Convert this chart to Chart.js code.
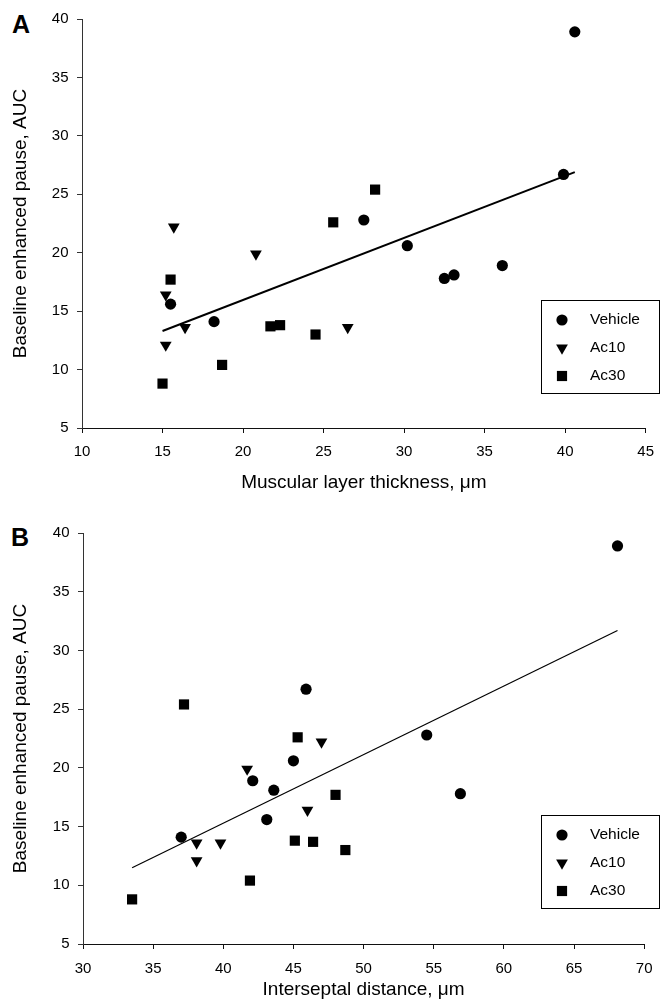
<!DOCTYPE html>
<html>
<head>
<meta charset="utf-8">
<script src="https://cdn.jsdelivr.net/npm/chart.js@4.4.0/dist/chart.umd.min.js"></script>
<style>
    body { margin: 0; background: #fff; width: 665px; height: 1004px; overflow: hidden; position: relative; }
    canvas { position: absolute; left: 0; display: block; }
    .letra { position: absolute; font-family: Arial, "Liberation Sans", sans-serif; font-weight: bold; font-size: 25px; line-height: 25px; }
</style>
</head>
<body>
<div class="letra" style="left:12px; top:12px;">A</div>
<div class="letra" style="left:11px; top:525px;">B</div>
<canvas id="grafica_a" width="665" height="500" style="top:0"></canvas>
<canvas id="grafica_b" width="665" height="504" style="top:500px"></canvas>
<script>
// Pausa aumentada basal (AUC) por animal, compartida por ambos paneles
const pausaVehiculo = [38.9, 26.7, 22.8, 20.6, 18.9, 18.1, 17.8, 15.6, 14.1];
const pausaAc10 = [22.2, 19.9, 16.4, 13.6, 13.6, 12.1];
const pausaAc30 = [8.8, 17.7, 10.4, 13.7, 13.8, 13.0, 22.6, 25.4];

// Panel A: grosor de la capa muscular (µm)
const grosorVehiculo = [40.6, 39.9, 27.5, 30.2, 36.1, 33.1, 32.5, 15.5, 18.2];
const grosorAc10 = [15.7, 20.8, 15.2, 16.4, 26.5, 15.2];
const grosorAc30 = [15.0, 15.5, 18.7, 21.7, 22.3, 24.5, 25.6, 28.2];
const tendenciaA_x = [15.0, 40.6];
const tendenciaA_y = [13.3, 26.9];

// Panel B: distancia interseptal (µm)
const distanciaVehiculo = [68.1, 45.9, 54.5, 45.0, 42.1, 43.6, 56.9, 43.1, 37.0];
const distanciaAc10 = [47.0, 41.7, 46.0, 38.1, 39.8, 38.1];
const distanciaAc30 = [33.5, 48.0, 41.9, 46.4, 45.1, 48.7, 45.3, 37.2];
const tendenciaB_x = [33.5, 68.1];
const tendenciaB_y = [11.5, 31.7];

const grupos = ['Vehicle', 'Ac10', 'Ac30'];
const ticksPausa = [5, 10, 15, 20, 25, 30, 35, 40];
const ticksGrosor = [10, 15, 20, 25, 30, 35, 40, 45];
const ticksDistancia = [30, 35, 40, 45, 50, 55, 60, 65, 70];

const fuente = 'Arial, "Liberation Sans", sans-serif';

function puntos(xs, ys) {
    return xs.map((x, i) => ({ x: x, y: ys[i] }));
}

// Leyenda con recuadro dentro del área de la gráfica
const leyendaCaja = {
    id: 'leyendaCaja',
    afterDatasetsDraw(chart, args, opts) {
        const ctx = chart.ctx;
        ctx.save();
        ctx.strokeStyle = '#000';
        ctx.lineWidth = 1;
        ctx.strokeRect(opts.x + 0.5, opts.y + 0.5, opts.w, opts.h);
        ctx.fillStyle = '#000';
        ctx.font = '15.5px ' + fuente;
        ctx.textBaseline = 'middle';
        ctx.textAlign = 'left';
        let fila = 0;
        chart.data.datasets.forEach(ds => {
            if (ds.showLine) return;
            const y = opts.y + opts.primera + fila * opts.paso;
            Chart.helpers.drawPoint(ctx, {
                pointStyle: ds.pointStyle,
                rotation: ds.pointRotation || 0,
                radius: ds.pointRadius,
                borderWidth: 0
            }, opts.x + opts.marcaX, y);
            ctx.fillText(ds.label, opts.x + opts.textoX, y);
            fila++;
        });
        ctx.restore();
    }
};

function dibujarGrafico(idCanvas, xsV, xs10, xs30, tendX, tendY, grosorLinea, ejeX, ticksX, tituloX, diseno) {
    const ctx = document.getElementById(idCanvas).getContext('2d');
    const serie = (label, xs, ys, estilo, radio, rotacion) => ({
        label: label,
        data: puntos(xs, ys),
        pointStyle: estilo,
        pointRadius: radio,
        pointHoverRadius: radio,
        pointRotation: rotacion,
        pointBackgroundColor: '#000',
        pointBorderColor: '#000',
        pointBorderWidth: 0,
        showLine: false
    });
    return new Chart(ctx, {
        type: 'scatter',
        data: {
            datasets: [
                serie(grupos[0], xsV, pausaVehiculo, 'circle', 5.6, 0),
                serie(grupos[1], xs10, pausaAc10, 'triangle', 6.8, 180),
                serie(grupos[2], xs30, pausaAc30, 'rect', 7.2, 0),
                {
                    label: 'tendencia',
                    data: puntos(tendX, tendY),
                    showLine: true,
                    borderColor: '#000',
                    borderWidth: grosorLinea,
                    pointRadius: 0,
                    fill: false
                }
            ]
        },
        options: {
            responsive: false,
            animation: false,
            events: [],
            clip: false,
            layout: { padding: diseno.padding },
            plugins: {
                legend: { display: false },
                tooltip: { enabled: false },
                leyendaCaja: diseno.leyenda
            },
            scales: {
                x: {
                    type: 'linear',
                    min: ejeX[0],
                    max: ejeX[1],
                    afterBuildTicks: s => { s.ticks = ticksX.map(v => ({ value: v })); },
                    afterFit: s => { s.height = diseno.altoX; },
                    border: { display: true, color: '#111', width: 1 },
                    grid: { drawOnChartArea: false, drawTicks: true, tickLength: 5, color: '#111' },
                    ticks: { color: '#000', padding: diseno.padTickX, maxRotation: 0, font: { family: fuente, size: 15, lineHeight: 1 } },
                    title: {
                        display: true,
                        text: tituloX,
                        color: '#000',
                        padding: { top: 0, bottom: diseno.padTituloX },
                        font: { family: fuente, size: 19, lineHeight: 1 }
                    }
                },
                y: {
                    type: 'linear',
                    min: 5,
                    max: 40,
                    afterBuildTicks: s => { s.ticks = ticksPausa.map(v => ({ value: v })); },
                    afterFit: s => { s.width = diseno.anchoY; },
                    border: { display: true, color: '#333', width: 1 },
                    grid: { drawOnChartArea: false, drawTicks: true, tickLength: 5, color: '#333' },
                    ticks: { color: '#000', padding: 8.5, font: { family: fuente, size: 15, lineHeight: 1 } },
                    title: {
                        display: true,
                        text: 'Baseline enhanced pause, AUC',
                        color: '#000',
                        padding: { top: 11, bottom: 0 },
                        font: { family: fuente, size: 19, lineHeight: 1 }
                    }
                }
            }
        },
        plugins: [leyendaCaja]
    });
}

dibujarGrafico('grafica_a', grosorVehiculo, grosorAc10, grosorAc30, tendenciaA_x, tendenciaA_y, 2,
    [10, 45], ticksGrosor, 'Muscular layer thickness, μm', {
        padding: { left: 0, top: 19, right: 13, bottom: 0 },
        altoX: 72, anchoY: 82, padTickX: 11, padTituloX: 7.5,
        leyenda: { x: 541, y: 300, w: 118, h: 93, primera: 20, paso: 28, marcaX: 21, textoX: 49 }
    });

dibujarGrafico('grafica_b', distanciaVehiculo, distanciaAc10, distanciaAc30, tendenciaB_x, tendenciaB_y, 1.2,
    [30, 70], ticksDistancia, 'Interseptal distance, μm', {
        padding: { left: 0, top: 33, right: 11, bottom: 0 },
        altoX: 60, anchoY: 83, padTickX: 12.5, padTituloX: 4.5,
        leyenda: { x: 541, y: 315, w: 118, h: 93, primera: 20, paso: 28, marcaX: 21, textoX: 49 }
    });
</script>
</body>
</html>
